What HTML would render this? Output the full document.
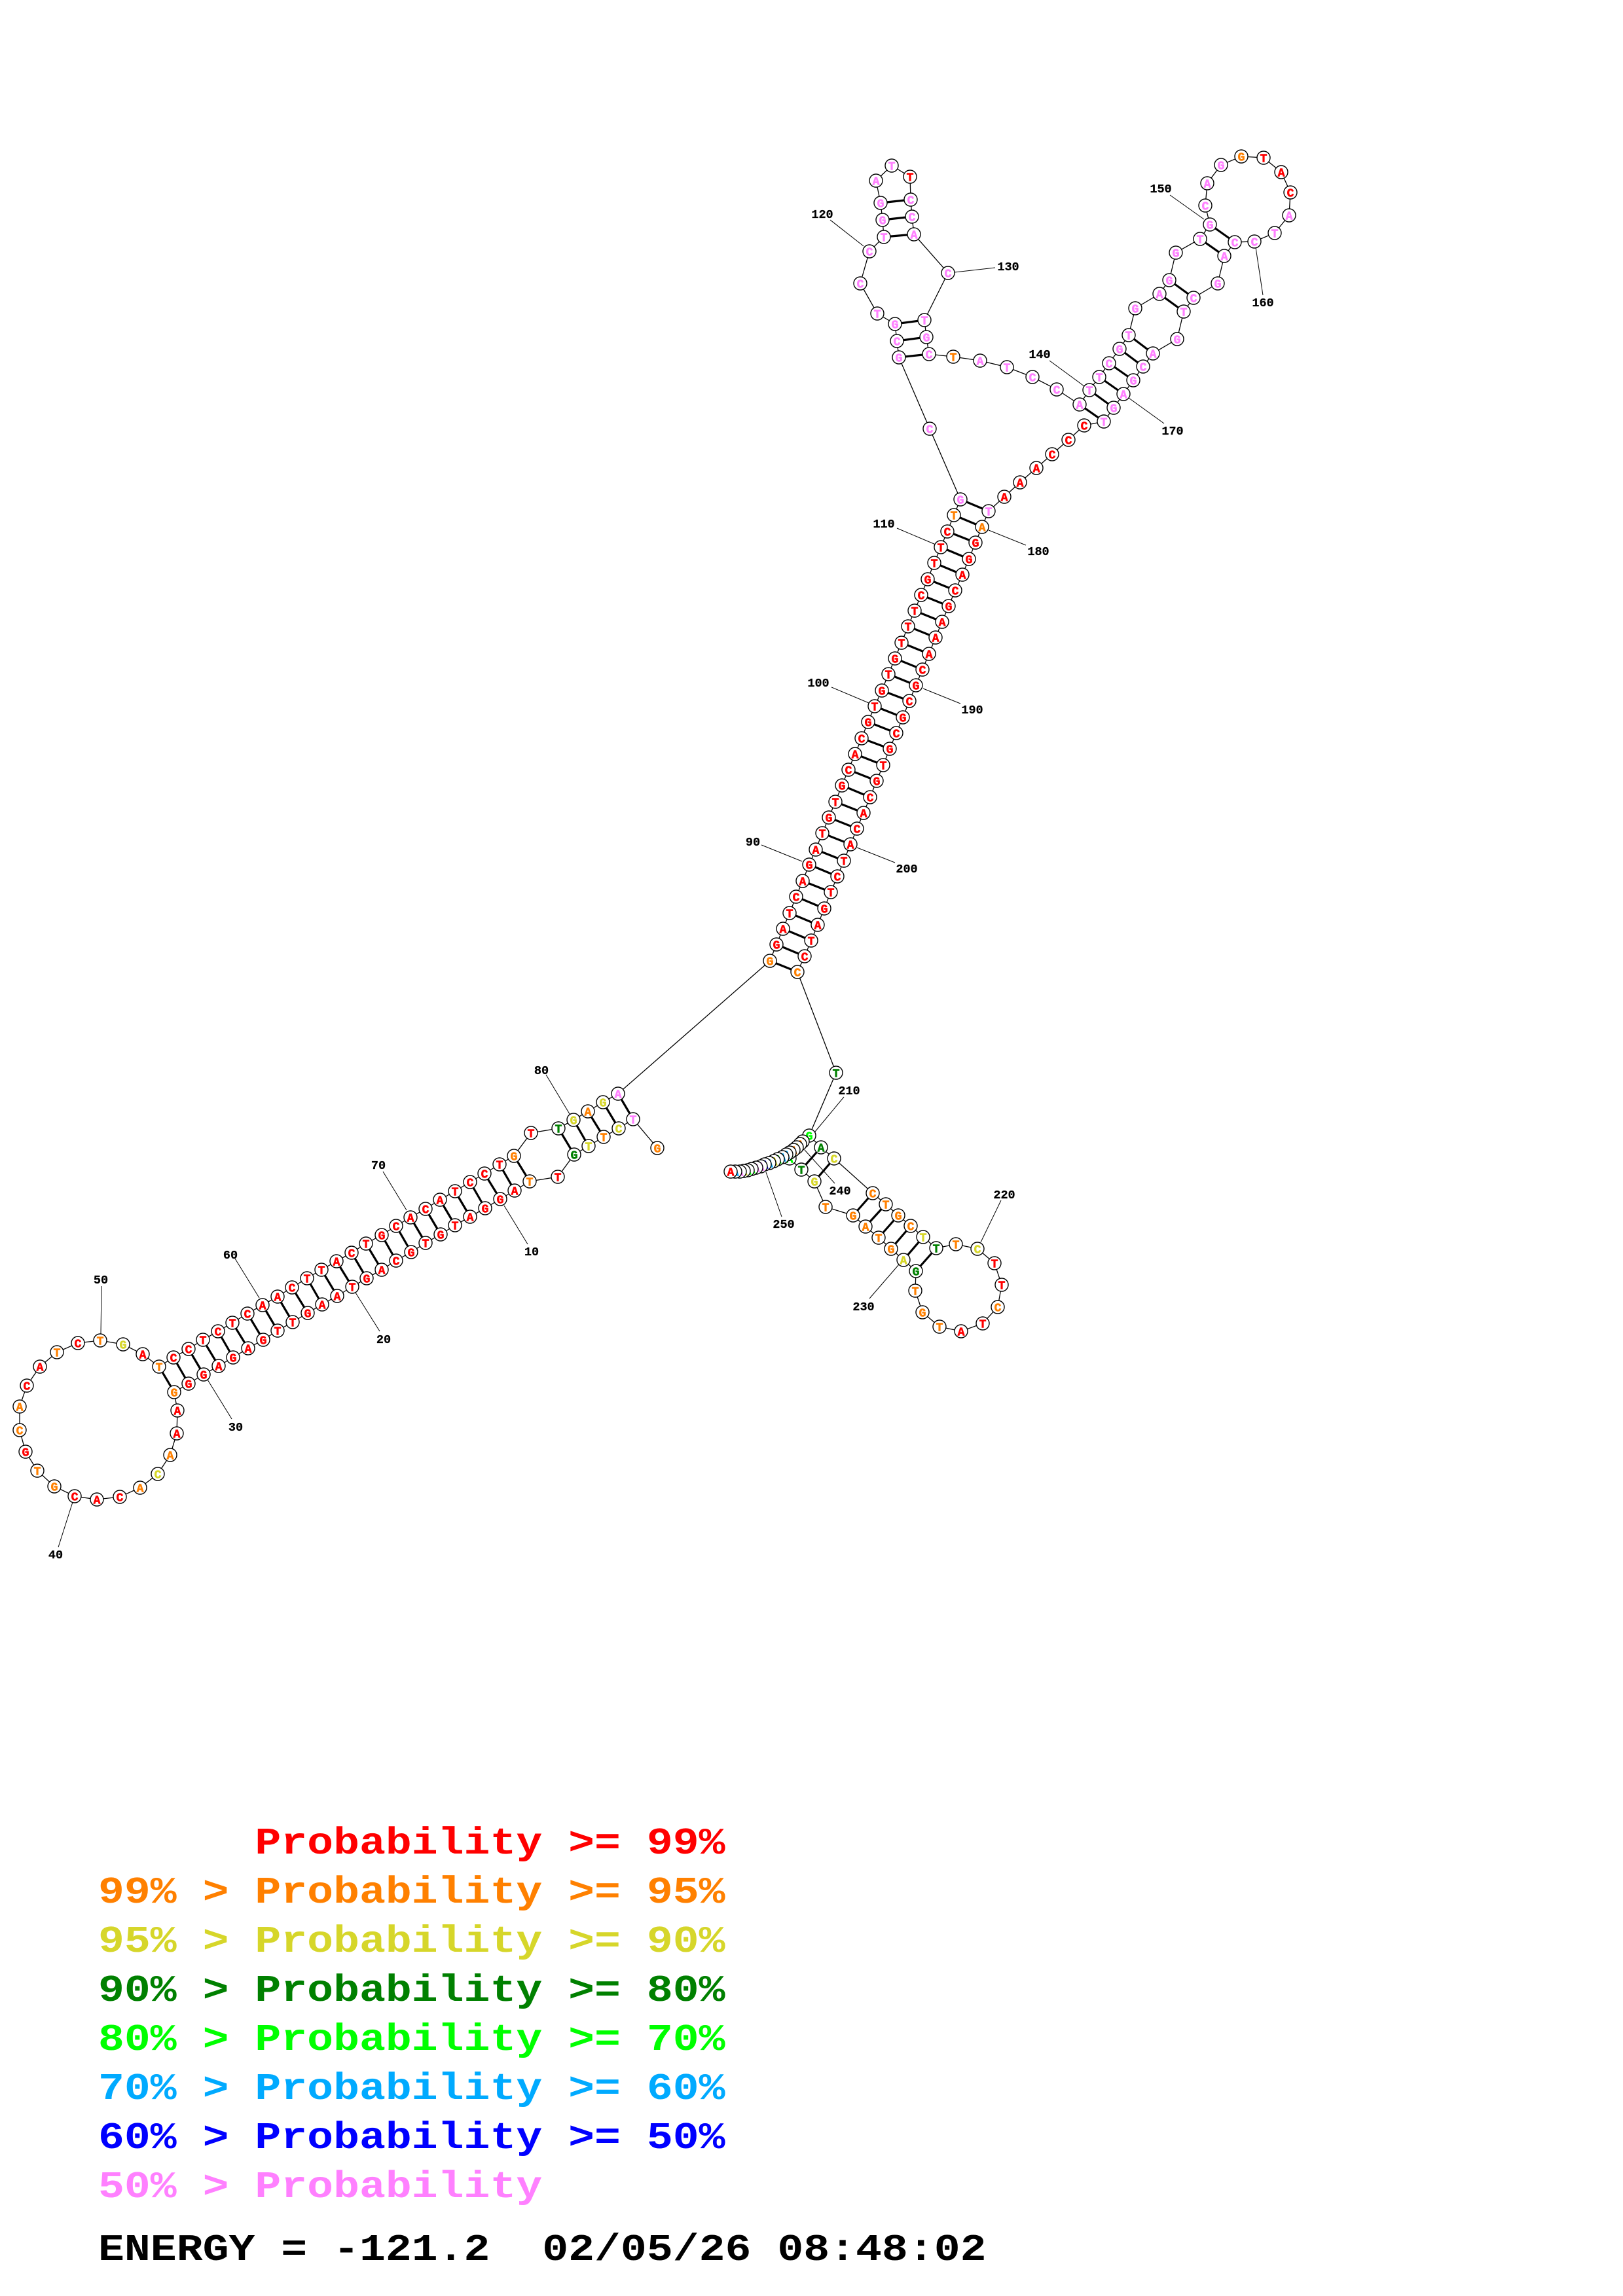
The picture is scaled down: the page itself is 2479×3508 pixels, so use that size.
<!DOCTYPE html>
<html><head><meta charset="utf-8"><title>RNA structure</title>
<style>
html,body{margin:0;padding:0;background:#fff}
svg{display:block}
.bb{fill:none;stroke:#000;stroke-width:1.3}
.pr{fill:none;stroke:#000;stroke-width:3.2}
.ld{fill:none;stroke:#000;stroke-width:1}
circle{fill:#fff;stroke:#000;stroke-width:1.4}
.t text{font-family:"Liberation Mono",monospace;font-weight:bold;font-size:18px;text-anchor:middle;stroke-width:.6;transform:translateY(.6px)}
.lb text{font-family:"Liberation Mono",monospace;font-weight:bold;font-size:18.5px;text-anchor:middle;fill:#000;stroke:#000;stroke-width:.25}
.lg text{font-family:"Liberation Mono",monospace;font-weight:bold;font-size:66.5px;white-space:pre}
.r{fill:#f00}.o{fill:#ff8000}.y{fill:#d6d62a}.g{fill:#008000}.l{fill:#0f0}.b{fill:#0af}.d{fill:#00f}.p{fill:#ff80ff}
.t .r{stroke:#f00}.t .o{stroke:#ff8000}.t .y{stroke:#d6d62a}.t .g{stroke:#008000}.t .l{stroke:#0f0}.t .b{stroke:#0af}.t .d{stroke:#00f}.t .p{stroke:#ff80ff}
</style></head><body>
<svg xmlns="http://www.w3.org/2000/svg" width="2479" height="3508" viewBox="0 0 2479 3508">
<rect width="2479" height="3508" fill="#fff"/>
<path class="bb" d="M1004 1754L967 1710L945 1724L922 1737L899 1751L877 1764L852 1798L809 1805L786 1819L764 1832L741 1846L718 1859L695 1872L673 1886L650 1899L628 1913L605 1926L583 1940L560 1953L538 1966L515 1980L492 1993L470 2006L447 2020L424 2033L402 2047L379 2060L356 2074L334 2087L311 2100L288 2114L266 2127L271 2155L270 2190L260 2223L241 2252L214 2273L183 2287L148 2291L114 2286L83 2271L57 2247L39 2218L30 2185L30 2149L41 2117L61 2088L87 2066L119 2052L153 2048L188 2054L218 2069L243 2088L265 2074L288 2061L310 2047L333 2034L355 2021L378 2007L401 1994L424 1981L446 1967L469 1953L491 1940L514 1927L537 1914L559 1900L583 1887L605 1873L627 1860L650 1847L672 1833L695 1820L718 1806L740 1793L763 1779L785 1766L811 1731L853 1724L876 1711L898 1698L921 1684L944 1671L1176 1468L1186 1443L1196 1419L1206 1395L1216 1370L1226 1346L1236 1321L1246 1298L1256 1273L1266 1249L1276 1225L1286 1200L1296 1176L1306 1152L1316 1128L1326 1103L1336 1079L1347 1055L1357 1030L1367 1006L1377 982L1387 957L1397 933L1407 909L1417 885L1427 860L1437 836L1447 812L1457 787L1467 763L1420 655L1373 546L1370 521L1367 495L1340 479L1314 433L1328 384L1350 362L1348 336L1345 310L1338 276L1362 253L1390 270L1391 305L1393 331L1396 358L1448 417L1412 489L1415 515L1419 541L1456 545L1497 551L1538 561L1577 576L1614 595L1649 618L1664 596L1679 576L1694 555L1710 533L1724 512L1734 471L1771 449L1786 428L1796 386L1833 365L1848 343L1841 314L1844 280L1865 252L1896 239L1930 241L1957 263L1971 294L1969 329L1947 356L1916 369L1886 370L1870 391L1860 433L1823 455L1808 476L1798 518L1761 540L1746 560L1731 581L1716 602L1701 623L1686 644L1656 650L1632 672L1607 694L1583 715L1558 737L1534 759L1510 781L1500 805L1490 829L1480 854L1470 878L1459 902L1449 926L1439 950L1429 974L1419 999L1409 1023L1399 1047L1389 1071L1379 1096L1369 1120L1359 1144L1349 1169L1339 1193L1329 1218L1319 1242L1309 1266L1299 1290L1289 1315L1279 1339L1269 1363L1259 1388L1249 1413L1239 1437L1229 1461L1218 1485L1277 1639L1236 1735L1254 1753L1274 1770L1333 1823L1353 1840L1372 1857L1391 1873L1410 1890L1430 1907L1460 1901L1493 1908L1519 1930L1530 1963L1524 1997L1501 2022L1468 2034L1435 2027L1409 2005L1398 1972L1399 1942L1380 1925L1361 1908L1342 1891L1322 1874L1303 1857L1261 1844L1244 1805L1224 1787L1206 1770L1226 1744"/>
<path class="pr" d="M944 1671L967 1710M921 1684L945 1724M898 1698L922 1737M876 1711L899 1751M853 1724L877 1764M785 1766L809 1805M763 1779L786 1819M740 1793L764 1832M718 1806L741 1846M695 1820L718 1859M672 1833L695 1872M650 1847L673 1886M627 1860L650 1899M605 1873L628 1913M583 1887L605 1926M559 1900L583 1940M537 1914L560 1953M514 1927L538 1966M491 1940L515 1980M469 1953L492 1993M446 1967L470 2006M424 1981L447 2020M401 1994L424 2033M378 2007L402 2047M355 2021L379 2060M333 2034L356 2074M310 2047L334 2087M288 2061L311 2100M265 2074L288 2114M243 2088L266 2127
M1176 1468L1218 1485M1186 1443L1229 1461M1196 1419L1239 1437M1206 1395L1249 1413M1216 1370L1259 1388M1226 1346L1269 1363M1236 1321L1279 1339M1246 1298L1289 1315M1256 1273L1299 1290M1266 1249L1309 1266M1276 1225L1319 1242M1286 1200L1329 1218M1296 1176L1339 1193M1306 1152L1349 1169M1316 1128L1359 1144M1326 1103L1369 1120M1336 1079L1379 1096M1347 1055L1389 1071M1357 1030L1399 1047M1367 1006L1409 1023M1377 982L1419 999M1387 957L1429 974M1397 933L1439 950M1407 909L1449 926M1417 885L1459 902M1427 860L1470 878M1437 836L1480 854M1447 812L1490 829M1457 787L1500 805M1467 763L1510 781
M1350 362L1396 358M1348 336L1393 331M1345 310L1391 305M1367 495L1412 489M1370 521L1415 515M1373 546L1419 541M1649 618L1686 644M1664 596L1701 623M1679 576L1716 602M1694 555L1731 581M1710 533L1746 560M1724 512L1761 540M1771 449L1808 476M1786 428L1823 455M1833 365L1870 391M1848 343L1886 370
M1236 1735L1206 1770M1254 1753L1224 1787M1274 1770L1244 1805M1333 1823L1303 1857M1353 1840L1322 1874M1372 1857L1342 1891M1391 1873L1361 1908M1410 1890L1380 1925M1430 1907L1399 1942"/>
<path class="ld" d="M1787 298L1839 335M1918 378L1929 451M1724 608L1778 647M1603 551L1656 590M1458 416L1520 409M1268 336L1319 376M1370 807L1429 832M1510 810L1567 833M1270 1050L1327 1074M1410 1052L1467 1075M1163 1291L1225 1316M1309 1295L1367 1318M1240 1735L1289 1676M1229 1757L1275 1808M1170 1791L1194 1859M1498 1898L1529 1834M1373 1932L1328 1984M585 1790L621 1849M770 1842L806 1901M543 1975L580 2034M834 1642L870 1702M155 1965L154 2038M111 2295L89 2364M317 2108L354 2168M359 1923L396 1983"/>
<g class="lb">
<text x="1773" y="294">150</text><text x="1929" y="468">160</text><text x="1791" y="664">170</text><text x="1588" y="547">140</text><text x="1540" y="413">130</text><text x="1256" y="333">120</text><text x="1350" y="806">110</text><text x="1586" y="848">180</text><text x="1250" y="1049">100</text><text x="1485" y="1090">190</text><text x="1150" y="1292">90</text><text x="1385" y="1333">200</text><text x="1297" y="1672">210</text><text x="1283" y="1825">240</text><text x="1197" y="1876">250</text><text x="1534" y="1831">220</text><text x="1319" y="2002">230</text><text x="578" y="1786">70</text><text x="812" y="1918">10</text><text x="586" y="2052">20</text><text x="827" y="1641">80</text><text x="154" y="1961">50</text><text x="85" y="2381">40</text><text x="360" y="2186">30</text><text x="352" y="1923">60</text>
</g>
<g class="t">
<g><circle cx="1206" cy="1770" r="10"/><text x="1206" y="1776" class="l">A</text></g>
<g><circle cx="1004" cy="1754" r="10"/><text x="1004" y="1760" class="o">G</text><circle cx="967" cy="1710" r="10"/><text x="967" y="1716" class="p">T</text><circle cx="945" cy="1724" r="10"/><text x="945" y="1730" class="y">C</text><circle cx="922" cy="1737" r="10"/><text x="922" y="1743" class="o">T</text><circle cx="899" cy="1751" r="10"/><text x="899" y="1757" class="y">T</text><circle cx="877" cy="1764" r="10"/><text x="877" y="1770" class="g">G</text><circle cx="852" cy="1798" r="10"/><text x="852" y="1804" class="r">T</text><circle cx="809" cy="1805" r="10"/><text x="809" y="1811" class="o">T</text><circle cx="786" cy="1819" r="10"/><text x="786" y="1825" class="r">A</text><circle cx="764" cy="1832" r="10"/><text x="764" y="1838" class="r">G</text><circle cx="741" cy="1846" r="10"/><text x="741" y="1852" class="r">G</text><circle cx="718" cy="1859" r="10"/><text x="718" y="1865" class="r">A</text><circle cx="695" cy="1872" r="10"/><text x="695" y="1878" class="r">T</text><circle cx="673" cy="1886" r="10"/><text x="673" y="1892" class="r">G</text><circle cx="650" cy="1899" r="10"/><text x="650" y="1905" class="r">T</text><circle cx="628" cy="1913" r="10"/><text x="628" y="1919" class="r">G</text><circle cx="605" cy="1926" r="10"/><text x="605" y="1932" class="r">C</text><circle cx="583" cy="1940" r="10"/><text x="583" y="1946" class="r">A</text><circle cx="560" cy="1953" r="10"/><text x="560" y="1959" class="r">G</text><circle cx="538" cy="1966" r="10"/><text x="538" y="1972" class="r">T</text><circle cx="515" cy="1980" r="10"/><text x="515" y="1986" class="r">A</text><circle cx="492" cy="1993" r="10"/><text x="492" y="1999" class="r">A</text><circle cx="470" cy="2006" r="10"/><text x="470" y="2012" class="r">G</text><circle cx="447" cy="2020" r="10"/><text x="447" y="2026" class="r">T</text><circle cx="424" cy="2033" r="10"/><text x="424" y="2039" class="r">T</text><circle cx="402" cy="2047" r="10"/><text x="402" y="2053" class="r">G</text><circle cx="379" cy="2060" r="10"/><text x="379" y="2066" class="r">A</text><circle cx="356" cy="2074" r="10"/><text x="356" y="2080" class="r">G</text><circle cx="334" cy="2087" r="10"/><text x="334" y="2093" class="r">A</text><circle cx="311" cy="2100" r="10"/><text x="311" y="2106" class="r">G</text><circle cx="288" cy="2114" r="10"/><text x="288" y="2120" class="r">G</text><circle cx="266" cy="2127" r="10"/><text x="266" y="2133" class="o">G</text></g>
<g><circle cx="271" cy="2155" r="10"/><text x="271" y="2161" class="r">A</text><circle cx="270" cy="2190" r="10"/><text x="270" y="2196" class="r">A</text><circle cx="260" cy="2223" r="10"/><text x="260" y="2229" class="o">A</text><circle cx="241" cy="2252" r="10"/><text x="241" y="2258" class="y">C</text><circle cx="214" cy="2273" r="10"/><text x="214" y="2279" class="o">A</text><circle cx="183" cy="2287" r="10"/><text x="183" y="2293" class="r">C</text><circle cx="148" cy="2291" r="10"/><text x="148" y="2297" class="r">A</text><circle cx="114" cy="2286" r="10"/><text x="114" y="2292" class="r">C</text><circle cx="83" cy="2271" r="10"/><text x="83" y="2277" class="o">G</text><circle cx="57" cy="2247" r="10"/><text x="57" y="2253" class="o">T</text><circle cx="39" cy="2218" r="10"/><text x="39" y="2224" class="r">G</text><circle cx="30" cy="2185" r="10"/><text x="30" y="2191" class="o">C</text><circle cx="30" cy="2149" r="10"/><text x="30" y="2155" class="o">A</text><circle cx="41" cy="2117" r="10"/><text x="41" y="2123" class="r">C</text><circle cx="61" cy="2088" r="10"/><text x="61" y="2094" class="r">A</text><circle cx="87" cy="2066" r="10"/><text x="87" y="2072" class="o">T</text><circle cx="119" cy="2052" r="10"/><text x="119" y="2058" class="r">C</text><circle cx="153" cy="2048" r="10"/><text x="153" y="2054" class="o">T</text><circle cx="188" cy="2054" r="10"/><text x="188" y="2060" class="y">G</text><circle cx="218" cy="2069" r="10"/><text x="218" y="2075" class="r">A</text><circle cx="243" cy="2088" r="10"/><text x="243" y="2094" class="o">T</text></g>
<g><circle cx="265" cy="2074" r="10"/><text x="265" y="2080" class="r">C</text><circle cx="288" cy="2061" r="10"/><text x="288" y="2067" class="r">C</text><circle cx="310" cy="2047" r="10"/><text x="310" y="2053" class="r">T</text><circle cx="333" cy="2034" r="10"/><text x="333" y="2040" class="r">C</text><circle cx="355" cy="2021" r="10"/><text x="355" y="2027" class="r">T</text><circle cx="378" cy="2007" r="10"/><text x="378" y="2013" class="r">C</text><circle cx="401" cy="1994" r="10"/><text x="401" y="2000" class="r">A</text><circle cx="424" cy="1981" r="10"/><text x="424" y="1987" class="r">A</text><circle cx="446" cy="1967" r="10"/><text x="446" y="1973" class="r">C</text><circle cx="469" cy="1953" r="10"/><text x="469" y="1959" class="r">T</text><circle cx="491" cy="1940" r="10"/><text x="491" y="1946" class="r">T</text><circle cx="514" cy="1927" r="10"/><text x="514" y="1933" class="r">A</text><circle cx="537" cy="1914" r="10"/><text x="537" y="1920" class="r">C</text><circle cx="559" cy="1900" r="10"/><text x="559" y="1906" class="r">T</text><circle cx="583" cy="1887" r="10"/><text x="583" y="1893" class="r">G</text><circle cx="605" cy="1873" r="10"/><text x="605" y="1879" class="r">C</text><circle cx="627" cy="1860" r="10"/><text x="627" y="1866" class="r">A</text><circle cx="650" cy="1847" r="10"/><text x="650" y="1853" class="r">C</text><circle cx="672" cy="1833" r="10"/><text x="672" y="1839" class="r">A</text><circle cx="695" cy="1820" r="10"/><text x="695" y="1826" class="r">T</text><circle cx="718" cy="1806" r="10"/><text x="718" y="1812" class="r">C</text><circle cx="740" cy="1793" r="10"/><text x="740" y="1799" class="r">C</text><circle cx="763" cy="1779" r="10"/><text x="763" y="1785" class="r">T</text><circle cx="785" cy="1766" r="10"/><text x="785" y="1772" class="o">G</text><circle cx="811" cy="1731" r="10"/><text x="811" y="1737" class="r">T</text><circle cx="853" cy="1724" r="10"/><text x="853" y="1730" class="g">T</text><circle cx="876" cy="1711" r="10"/><text x="876" y="1717" class="y">G</text><circle cx="898" cy="1698" r="10"/><text x="898" y="1704" class="o">A</text><circle cx="921" cy="1684" r="10"/><text x="921" y="1690" class="y">G</text><circle cx="944" cy="1671" r="10"/><text x="944" y="1677" class="p">A</text></g>
<g><circle cx="1176" cy="1468" r="10"/><text x="1176" y="1474" class="o">G</text><circle cx="1186" cy="1443" r="10"/><text x="1186" y="1449" class="r">G</text><circle cx="1196" cy="1419" r="10"/><text x="1196" y="1425" class="r">A</text><circle cx="1206" cy="1395" r="10"/><text x="1206" y="1401" class="r">T</text><circle cx="1216" cy="1370" r="10"/><text x="1216" y="1376" class="r">C</text><circle cx="1226" cy="1346" r="10"/><text x="1226" y="1352" class="r">A</text><circle cx="1236" cy="1321" r="10"/><text x="1236" y="1327" class="r">G</text><circle cx="1246" cy="1298" r="10"/><text x="1246" y="1304" class="r">A</text><circle cx="1256" cy="1273" r="10"/><text x="1256" y="1279" class="r">T</text><circle cx="1266" cy="1249" r="10"/><text x="1266" y="1255" class="r">G</text><circle cx="1276" cy="1225" r="10"/><text x="1276" y="1231" class="r">T</text><circle cx="1286" cy="1200" r="10"/><text x="1286" y="1206" class="r">G</text><circle cx="1296" cy="1176" r="10"/><text x="1296" y="1182" class="r">C</text><circle cx="1306" cy="1152" r="10"/><text x="1306" y="1158" class="r">A</text><circle cx="1316" cy="1128" r="10"/><text x="1316" y="1134" class="r">C</text><circle cx="1326" cy="1103" r="10"/><text x="1326" y="1109" class="r">G</text><circle cx="1336" cy="1079" r="10"/><text x="1336" y="1085" class="r">T</text><circle cx="1347" cy="1055" r="10"/><text x="1347" y="1061" class="r">G</text><circle cx="1357" cy="1030" r="10"/><text x="1357" y="1036" class="r">T</text><circle cx="1367" cy="1006" r="10"/><text x="1367" y="1012" class="r">G</text><circle cx="1377" cy="982" r="10"/><text x="1377" y="988" class="r">T</text><circle cx="1387" cy="957" r="10"/><text x="1387" y="963" class="r">T</text><circle cx="1397" cy="933" r="10"/><text x="1397" y="939" class="r">T</text><circle cx="1407" cy="909" r="10"/><text x="1407" y="915" class="r">C</text><circle cx="1417" cy="885" r="10"/><text x="1417" y="891" class="r">G</text><circle cx="1427" cy="860" r="10"/><text x="1427" y="866" class="r">T</text><circle cx="1437" cy="836" r="10"/><text x="1437" y="842" class="r">T</text><circle cx="1447" cy="812" r="10"/><text x="1447" y="818" class="r">C</text><circle cx="1457" cy="787" r="10"/><text x="1457" y="793" class="o">T</text><circle cx="1467" cy="763" r="10"/><text x="1467" y="769" class="p">G</text></g>
<g><circle cx="1420" cy="655" r="10"/><text x="1420" y="661" class="p">C</text><circle cx="1373" cy="546" r="10"/><text x="1373" y="552" class="p">G</text><circle cx="1370" cy="521" r="10"/><text x="1370" y="527" class="p">C</text><circle cx="1367" cy="495" r="10"/><text x="1367" y="501" class="p">G</text><circle cx="1340" cy="479" r="10"/><text x="1340" y="485" class="p">T</text><circle cx="1314" cy="433" r="10"/><text x="1314" y="439" class="p">C</text><circle cx="1328" cy="384" r="10"/><text x="1328" y="390" class="p">C</text><circle cx="1350" cy="362" r="10"/><text x="1350" y="368" class="p">T</text><circle cx="1348" cy="336" r="10"/><text x="1348" y="342" class="p">G</text><circle cx="1345" cy="310" r="10"/><text x="1345" y="316" class="p">G</text><circle cx="1338" cy="276" r="10"/><text x="1338" y="282" class="p">A</text><circle cx="1362" cy="253" r="10"/><text x="1362" y="259" class="p">T</text><circle cx="1390" cy="270" r="10"/><text x="1390" y="276" class="r">T</text><circle cx="1391" cy="305" r="10"/><text x="1391" y="311" class="p">C</text><circle cx="1393" cy="331" r="10"/><text x="1393" y="337" class="p">C</text><circle cx="1396" cy="358" r="10"/><text x="1396" y="364" class="p">A</text><circle cx="1448" cy="417" r="10"/><text x="1448" y="423" class="p">C</text><circle cx="1412" cy="489" r="10"/><text x="1412" y="495" class="p">T</text><circle cx="1415" cy="515" r="10"/><text x="1415" y="521" class="p">G</text><circle cx="1419" cy="541" r="10"/><text x="1419" y="547" class="p">C</text><circle cx="1456" cy="545" r="10"/><text x="1456" y="551" class="o">T</text><circle cx="1497" cy="551" r="10"/><text x="1497" y="557" class="p">A</text><circle cx="1538" cy="561" r="10"/><text x="1538" y="567" class="p">T</text><circle cx="1577" cy="576" r="10"/><text x="1577" y="582" class="p">C</text><circle cx="1614" cy="595" r="10"/><text x="1614" y="601" class="p">C</text><circle cx="1649" cy="618" r="10"/><text x="1649" y="624" class="p">A</text><circle cx="1664" cy="596" r="10"/><text x="1664" y="602" class="p">T</text><circle cx="1679" cy="576" r="10"/><text x="1679" y="582" class="p">T</text><circle cx="1694" cy="555" r="10"/><text x="1694" y="561" class="p">C</text><circle cx="1710" cy="533" r="10"/><text x="1710" y="539" class="p">G</text><circle cx="1724" cy="512" r="10"/><text x="1724" y="518" class="p">T</text><circle cx="1734" cy="471" r="10"/><text x="1734" y="477" class="p">G</text><circle cx="1771" cy="449" r="10"/><text x="1771" y="455" class="p">A</text><circle cx="1786" cy="428" r="10"/><text x="1786" y="434" class="p">G</text><circle cx="1796" cy="386" r="10"/><text x="1796" y="392" class="p">G</text><circle cx="1833" cy="365" r="10"/><text x="1833" y="371" class="p">T</text><circle cx="1848" cy="343" r="10"/><text x="1848" y="349" class="p">G</text><circle cx="1841" cy="314" r="10"/><text x="1841" y="320" class="p">C</text><circle cx="1844" cy="280" r="10"/><text x="1844" y="286" class="p">A</text><circle cx="1865" cy="252" r="10"/><text x="1865" y="258" class="p">G</text><circle cx="1896" cy="239" r="10"/><text x="1896" y="245" class="o">G</text><circle cx="1930" cy="241" r="10"/><text x="1930" y="247" class="r">T</text><circle cx="1957" cy="263" r="10"/><text x="1957" y="269" class="r">A</text><circle cx="1971" cy="294" r="10"/><text x="1971" y="300" class="r">C</text><circle cx="1969" cy="329" r="10"/><text x="1969" y="335" class="p">A</text><circle cx="1947" cy="356" r="10"/><text x="1947" y="362" class="p">T</text><circle cx="1916" cy="369" r="10"/><text x="1916" y="375" class="p">C</text><circle cx="1886" cy="370" r="10"/><text x="1886" y="376" class="p">C</text><circle cx="1870" cy="391" r="10"/><text x="1870" y="397" class="p">A</text><circle cx="1860" cy="433" r="10"/><text x="1860" y="439" class="p">G</text><circle cx="1823" cy="455" r="10"/><text x="1823" y="461" class="p">C</text><circle cx="1808" cy="476" r="10"/><text x="1808" y="482" class="p">T</text><circle cx="1798" cy="518" r="10"/><text x="1798" y="524" class="p">G</text><circle cx="1761" cy="540" r="10"/><text x="1761" y="546" class="p">A</text><circle cx="1746" cy="560" r="10"/><text x="1746" y="566" class="p">C</text><circle cx="1731" cy="581" r="10"/><text x="1731" y="587" class="p">G</text><circle cx="1716" cy="602" r="10"/><text x="1716" y="608" class="p">A</text><circle cx="1701" cy="623" r="10"/><text x="1701" y="629" class="p">G</text><circle cx="1686" cy="644" r="10"/><text x="1686" y="650" class="p">T</text></g>
<g><circle cx="1656" cy="650" r="10"/><text x="1656" y="656" class="r">C</text><circle cx="1632" cy="672" r="10"/><text x="1632" y="678" class="r">C</text><circle cx="1607" cy="694" r="10"/><text x="1607" y="700" class="r">C</text><circle cx="1583" cy="715" r="10"/><text x="1583" y="721" class="r">A</text><circle cx="1558" cy="737" r="10"/><text x="1558" y="743" class="r">A</text><circle cx="1534" cy="759" r="10"/><text x="1534" y="765" class="r">A</text><circle cx="1510" cy="781" r="10"/><text x="1510" y="787" class="p">T</text><circle cx="1500" cy="805" r="10"/><text x="1500" y="811" class="o">A</text><circle cx="1490" cy="829" r="10"/><text x="1490" y="835" class="r">G</text><circle cx="1480" cy="854" r="10"/><text x="1480" y="860" class="r">G</text><circle cx="1470" cy="878" r="10"/><text x="1470" y="884" class="r">A</text><circle cx="1459" cy="902" r="10"/><text x="1459" y="908" class="r">C</text><circle cx="1449" cy="926" r="10"/><text x="1449" y="932" class="r">G</text><circle cx="1439" cy="950" r="10"/><text x="1439" y="956" class="r">A</text><circle cx="1429" cy="974" r="10"/><text x="1429" y="980" class="r">A</text><circle cx="1419" cy="999" r="10"/><text x="1419" y="1005" class="r">A</text><circle cx="1409" cy="1023" r="10"/><text x="1409" y="1029" class="r">C</text><circle cx="1399" cy="1047" r="10"/><text x="1399" y="1053" class="r">G</text><circle cx="1389" cy="1071" r="10"/><text x="1389" y="1077" class="r">C</text><circle cx="1379" cy="1096" r="10"/><text x="1379" y="1102" class="r">G</text><circle cx="1369" cy="1120" r="10"/><text x="1369" y="1126" class="r">C</text><circle cx="1359" cy="1144" r="10"/><text x="1359" y="1150" class="r">G</text><circle cx="1349" cy="1169" r="10"/><text x="1349" y="1175" class="r">T</text><circle cx="1339" cy="1193" r="10"/><text x="1339" y="1199" class="r">G</text><circle cx="1329" cy="1218" r="10"/><text x="1329" y="1224" class="r">C</text><circle cx="1319" cy="1242" r="10"/><text x="1319" y="1248" class="r">A</text><circle cx="1309" cy="1266" r="10"/><text x="1309" y="1272" class="r">C</text><circle cx="1299" cy="1290" r="10"/><text x="1299" y="1296" class="r">A</text><circle cx="1289" cy="1315" r="10"/><text x="1289" y="1321" class="r">T</text><circle cx="1279" cy="1339" r="10"/><text x="1279" y="1345" class="r">C</text><circle cx="1269" cy="1363" r="10"/><text x="1269" y="1369" class="r">T</text><circle cx="1259" cy="1388" r="10"/><text x="1259" y="1394" class="r">G</text><circle cx="1249" cy="1413" r="10"/><text x="1249" y="1419" class="r">A</text><circle cx="1239" cy="1437" r="10"/><text x="1239" y="1443" class="r">T</text><circle cx="1229" cy="1461" r="10"/><text x="1229" y="1467" class="r">C</text><circle cx="1218" cy="1485" r="10"/><text x="1218" y="1491" class="o">C</text></g>
<g><circle cx="1277" cy="1639" r="10"/><text x="1277" y="1645" class="g">T</text><circle cx="1236" cy="1735" r="10"/><text x="1236" y="1741" class="l">G</text><circle cx="1254" cy="1753" r="10"/><text x="1254" y="1759" class="g">A</text><circle cx="1274" cy="1770" r="10"/><text x="1274" y="1776" class="y">C</text><circle cx="1333" cy="1823" r="10"/><text x="1333" y="1829" class="o">C</text><circle cx="1353" cy="1840" r="10"/><text x="1353" y="1846" class="o">T</text><circle cx="1372" cy="1857" r="10"/><text x="1372" y="1863" class="o">G</text><circle cx="1391" cy="1873" r="10"/><text x="1391" y="1879" class="o">C</text><circle cx="1410" cy="1890" r="10"/><text x="1410" y="1896" class="y">T</text><circle cx="1430" cy="1907" r="10"/><text x="1430" y="1913" class="g">T</text><circle cx="1460" cy="1901" r="10"/><text x="1460" y="1907" class="o">T</text><circle cx="1493" cy="1908" r="10"/><text x="1493" y="1914" class="y">C</text><circle cx="1519" cy="1930" r="10"/><text x="1519" y="1936" class="r">T</text><circle cx="1530" cy="1963" r="10"/><text x="1530" y="1969" class="r">T</text><circle cx="1524" cy="1997" r="10"/><text x="1524" y="2003" class="o">C</text><circle cx="1501" cy="2022" r="10"/><text x="1501" y="2028" class="r">T</text><circle cx="1468" cy="2034" r="10"/><text x="1468" y="2040" class="r">A</text><circle cx="1435" cy="2027" r="10"/><text x="1435" y="2033" class="o">T</text><circle cx="1409" cy="2005" r="10"/><text x="1409" y="2011" class="o">G</text><circle cx="1398" cy="1972" r="10"/><text x="1398" y="1978" class="o">T</text><circle cx="1399" cy="1942" r="10"/><text x="1399" y="1948" class="g">G</text><circle cx="1380" cy="1925" r="10"/><text x="1380" y="1931" class="y">A</text><circle cx="1361" cy="1908" r="10"/><text x="1361" y="1914" class="o">G</text><circle cx="1342" cy="1891" r="10"/><text x="1342" y="1897" class="o">T</text><circle cx="1322" cy="1874" r="10"/><text x="1322" y="1880" class="o">A</text><circle cx="1303" cy="1857" r="10"/><text x="1303" y="1863" class="o">G</text><circle cx="1261" cy="1844" r="10"/><text x="1261" y="1850" class="o">T</text><circle cx="1244" cy="1805" r="10"/><text x="1244" y="1811" class="y">G</text><circle cx="1224" cy="1787" r="10"/><text x="1224" y="1793" class="g">T</text></g>
<g><circle cx="1226" cy="1744" r="10"/><text x="1226" y="1750" class="o">A</text><circle cx="1222" cy="1748" r="10"/><text x="1222" y="1754" class="o">A</text><circle cx="1217" cy="1753" r="10"/><text x="1217" y="1759" class="y">A</text><circle cx="1212" cy="1757" r="10"/><text x="1212" y="1763" class="o">A</text><circle cx="1206" cy="1761" r="10"/><text x="1206" y="1767" class="l">A</text><circle cx="1201" cy="1764" r="10"/><text x="1201" y="1770" class="b">A</text><circle cx="1195" cy="1768" r="10"/><text x="1195" y="1774" class="b">A</text><circle cx="1188" cy="1771" r="10"/><text x="1188" y="1777" class="l">A</text><circle cx="1182" cy="1774" r="10"/><text x="1182" y="1780" class="y">A</text><circle cx="1175" cy="1777" r="10"/><text x="1175" y="1783" class="b">A</text><circle cx="1168" cy="1779" r="10"/><text x="1168" y="1785" class="d">A</text><circle cx="1162" cy="1782" r="10"/><text x="1162" y="1788" class="p">A</text><circle cx="1155" cy="1784" r="10"/><text x="1155" y="1790" class="p">A</text><circle cx="1148" cy="1786" r="10"/><text x="1148" y="1792" class="l">A</text><circle cx="1142" cy="1788" r="10"/><text x="1142" y="1794" class="l">A</text><circle cx="1136" cy="1789" r="10"/><text x="1136" y="1795" class="y">A</text><circle cx="1130" cy="1790" r="10"/><text x="1130" y="1796" class="p">A</text><circle cx="1123" cy="1790" r="10"/><text x="1123" y="1796" class="b">A</text><circle cx="1116" cy="1790" r="10"/><text x="1116" y="1796" class="r">A</text></g>
</g>
<g class="lg">
<text transform="translate(150 2832) scale(1 .87)" class="r">      Probability &gt;= 99%</text>
<text transform="translate(150 2907) scale(1 .87)" class="o">99% &gt; Probability &gt;= 95%</text>
<text transform="translate(150 2982) scale(1 .87)" class="y">95% &gt; Probability &gt;= 90%</text>
<text transform="translate(150 3057) scale(1 .87)" class="g">90% &gt; Probability &gt;= 80%</text>
<text transform="translate(150 3132) scale(1 .87)" class="l">80% &gt; Probability &gt;= 70%</text>
<text transform="translate(150 3207) scale(1 .87)" class="b">70% &gt; Probability &gt;= 60%</text>
<text transform="translate(150 3282) scale(1 .87)" class="d">60% &gt; Probability &gt;= 50%</text>
<text transform="translate(150 3357) scale(1 .87)" class="p">50% &gt; Probability</text>
<text transform="translate(150 3453) scale(1 .87)" fill="#000">ENERGY = -121.2  02/05/26 08:48:02</text>
</g>
</svg>
</body></html>
